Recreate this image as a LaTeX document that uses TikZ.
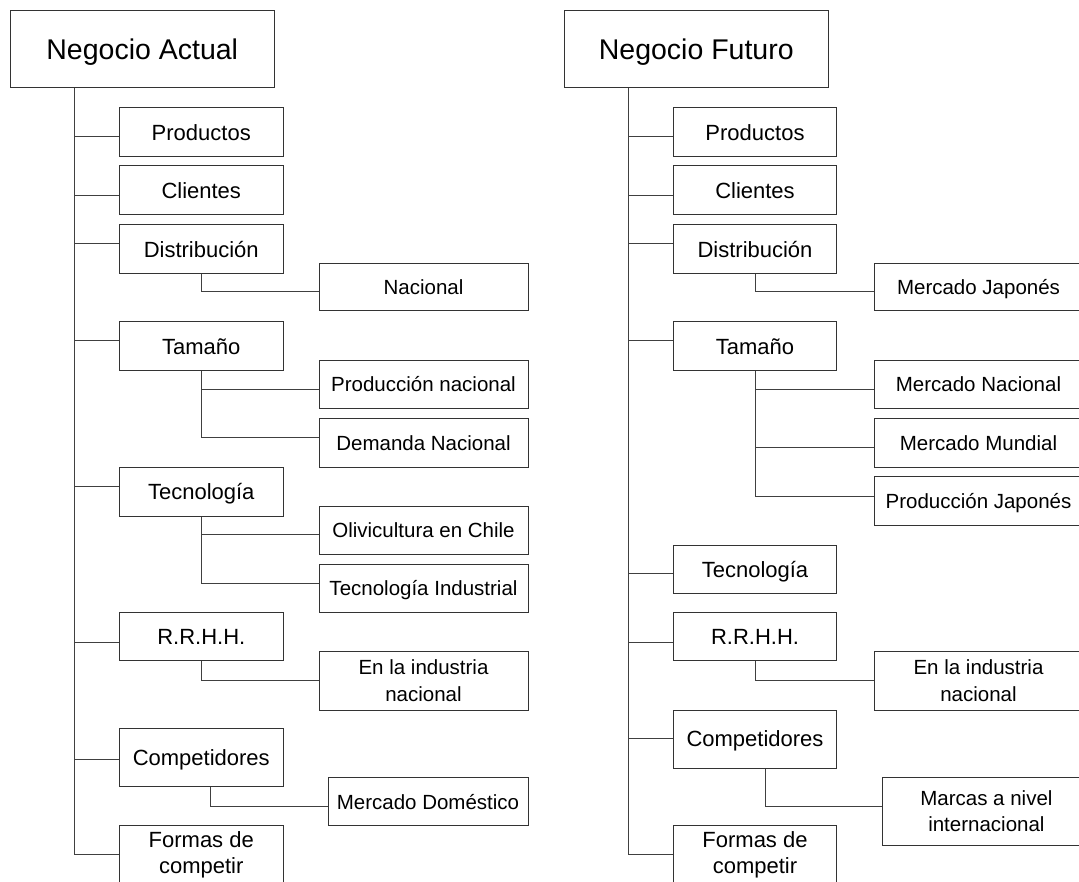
\documentclass[tikz,border=0pt]{standalone}
\usepackage{fontspec}
\setmainfont{Liberation Sans}

% horizontal stem from a trunk to the west side of a box
\newcommand\stem[3]{%
  \coordinate (#1w) at ([yshift=#2]#1.west);
  \draw[link] (#1w -| #3) -- (#1w);}
% elbow from the bottom of a box down and across to a child box
\newcommand\elbow[4]{%
  \draw[link] ([xshift=#2]#1.south) |- ([yshift=#4]#3.west);}

\begin{document}
\begin{tikzpicture}[x=1pt,y=-1pt,
  link/.style={draw=black!75, line width=1pt},
  box/.style={draw=black!80, line width=1pt, rectangle, inner sep=0pt, align=center, fill=white},
  rootbox/.style={box, font=\fontsize{28.5}{34}\selectfont, text height=25.65pt, text depth=5.24pt},
  topic/.style={box, font=\fontsize{22}{26.3}\selectfont, minimum width=163.5pt},
  detail/.style={box, font=\fontsize{20.5}{26.7}\selectfont, minimum width=209pt},
  onet/.style={text height=19.8pt, text depth=4.05pt},
  oned/.style={text height=18.45pt, text depth=3.77pt}
]
\clip (0,0) rectangle (1079,882);
\fill[white] (0,0) rectangle (1079,882);

% ---------------- Negocio Actual ----------------
\node[rootbox, minimum width=263.5pt, minimum height=77pt] (rootA) at (142.25,49.5) {Negocio Actual};
\node[topic, onet, minimum height=48.7pt] (prodA) at (201.25,132.35) {Productos};
\node[topic, onet, minimum height=48.3pt] (cliA)  at (201.25,190.15) {Clientes};
\node[topic, onet, minimum height=48.3pt] (distA) at (201.25,249.15) {Distribución};
\node[topic, onet, minimum height=48.3pt] (tamA)  at (201.25,346.15) {Tamaño};
\node[topic, onet, minimum height=48.3pt] (tecA)  at (201.25,491.85) {Tecnología};
\node[topic, onet, minimum height=48.4pt] (rrhhA) at (201.25,636.5)  {R.R.H.H.};
\node[topic, onet, minimum height=57.3pt] (compA) at (201.25,757.35) {Competidores};
\node[topic, minimum height=58.4pt] (formA) at (201.25,854.9) {Formas de\\competir};

\node[detail, oned, minimum height=47.7pt] (nacA) at (423.5,287.15) {Nacional};
\node[detail, oned, minimum height=48.4pt] (pnA)  at (423.5,384.5)  {Producción nacional};
\node[detail, oned, minimum height=48.3pt] (dnA)  at (423.5,443.15) {Demanda Nacional};
\node[detail, oned, minimum height=48.3pt] (olA)  at (423.5,530.15) {Olivicultura en Chile};
\node[detail, oned, minimum height=48.3pt] (tiA)  at (423.5,588.15) {Tecnología Industrial};
\node[detail, minimum height=58.3pt] (eiA) at (423.5,680.85) {En la industria\\nacional};
\node[detail, oned, minimum width=200pt, minimum height=48pt] (mdA) at (428,801.7) {Mercado Doméstico};

\coordinate (tA) at ([xshift=64pt]rootA.south west);
\draw[link] (tA) |- (formA.west);
\stem{prodA}{-4.35pt}{tA}
\stem{cliA}{-5.85pt}{tA}
\stem{distA}{5.85pt}{tA}
\stem{tamA}{5.85pt}{tA}
\stem{tecA}{5.85pt}{tA}
\stem{rrhhA}{-5.5pt}{tA}
\stem{compA}{-1.65pt}{tA}

\elbow{distA}{0pt}{nacA}{-4.55pt}
\elbow{tamA}{0pt}{pnA}{-4.8pt}
\elbow{tamA}{0pt}{dnA}{5.85pt}
\elbow{tecA}{0pt}{olA}{-4.55pt}
\elbow{tecA}{0pt}{tiA}{5.15pt}
\elbow{rrhhA}{0pt}{eiA}{0.85pt}
\elbow{compA}{9.45pt}{mdA}{-4.3pt}

% ---------------- Negocio Futuro ----------------
\node[rootbox, minimum width=264.5pt, minimum height=77pt] (rootB) at (696.25,49.5) {Negocio Futuro};
\node[topic, onet, minimum width=163pt, minimum height=48.7pt] (prodB) at (755,132.35) {Productos};
\node[topic, onet, minimum width=163pt, minimum height=48.3pt] (cliB)  at (755,190.15) {Clientes};
\node[topic, onet, minimum width=163pt, minimum height=48.3pt] (distB) at (755,249.15) {Distribución};
\node[topic, onet, minimum width=163pt, minimum height=48.3pt] (tamB)  at (755,346.15) {Tamaño};
\node[topic, onet, minimum width=163pt, minimum height=48.3pt] (tecB)  at (755,569.15) {Tecnología};
\node[topic, onet, minimum width=163pt, minimum height=48.4pt] (rrhhB) at (755,636.5)  {R.R.H.H.};
\node[topic, onet, minimum width=163pt, minimum height=58pt]   (compB) at (755,739)    {Competidores};
\node[topic, minimum width=163pt, minimum height=58.4pt] (formB) at (755,854.9) {Formas de\\competir};

\node[detail, oned, minimum height=47.7pt] (mjB) at (978.5,287.15) {Mercado Japonés};
\node[detail, oned, minimum height=48.4pt] (mnB) at (978.5,384.5)  {Mercado Nacional};
\node[detail, oned, minimum height=48.3pt] (mmB) at (978.5,443.15) {Mercado Mundial};
\node[detail, oned, minimum height=48.6pt] (pjB) at (978.5,501)    {Producción Japonés};
\node[detail, minimum height=58.3pt] (eiB) at (978.5,680.85) {En la industria\\nacional};
\node[detail, minimum width=207.2pt, minimum height=68pt] (maB) at (986.4,811.3) {Marcas a nivel\\internacional};

\coordinate (tB) at ([xshift=64.5pt]rootB.south west);
\draw[link] (tB) |- (formB.west);
\stem{prodB}{-4.35pt}{tB}
\stem{cliB}{-5.85pt}{tB}
\stem{distB}{5.85pt}{tB}
\stem{tamB}{5.85pt}{tB}
\stem{tecB}{-4.55pt}{tB}
\stem{rrhhB}{-5.5pt}{tB}
\stem{compB}{0.3pt}{tB}

\elbow{distB}{0pt}{mjB}{-4.55pt}
\elbow{tamB}{0pt}{mnB}{-4.8pt}
\elbow{tamB}{0pt}{mmB}{-4.55pt}
\elbow{tamB}{0pt}{pjB}{4.7pt}
\elbow{rrhhB}{0pt}{eiB}{0.85pt}
\elbow{compB}{10.2pt}{maB}{5.3pt}
\end{tikzpicture}
\end{document}
